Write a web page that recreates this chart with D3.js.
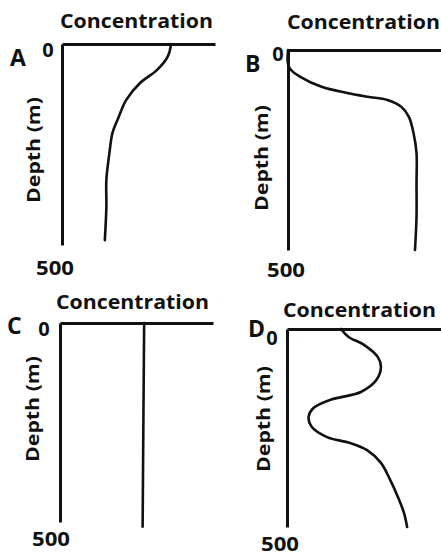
<!DOCTYPE html>
<html>
<head>
<meta charset="utf-8">
<script src="https://cdn.jsdelivr.net/npm/d3@7"></script>
<style>
  html, body { margin: 0; padding: 0; background: #fff; }
  svg { display: block; }
  text { font-family: "Open Sans", "DejaVu Sans", sans-serif; font-weight: 700; fill: #111; }
</style>
</head>
<body>
<svg id="chart" width="441" height="556"></svg>
<script>
// Depth profiles (depth in m, concentration on a relative 0-100 scale)
const panelNames = ["A", "B", "C", "D"];
const depthTicks = [0, 500];
const titleText = "Concentration";
const depthLabel = "Depth (m)";

const depthA = [0, 7, 32, 65, 97, 139, 182, 221, 271, 338, 405, 488];
const concA  = [71, 71, 69, 62, 51, 42, 37, 33, 31, 29, 29, 28];

const depthB = [0, 35, 50, 67, 92, 107, 117, 125, 142, 167, 207, 257, 332, 417, 500];
const concB  = [0, 0, 2, 8, 22, 38, 52, 65, 74, 79, 82, 84, 84, 84, 83];

const depthC = [0, 250, 512];
const concC  = [55, 54.5, 54];

const depthD = [0, 20, 40, 71, 96, 129, 159, 179, 200, 222, 247, 273, 288, 306, 338, 381, 424, 465, 500];
const concD  = [35, 40, 50, 59, 61, 58, 48, 28, 17, 14, 16, 26, 41, 52, 61, 67, 72, 76, 78];

const profiles = [
  { depth: depthA, conc: concA },
  { depth: depthB, conc: concB },
  { depth: depthC, conc: concC },
  { depth: depthD, conc: concD }
];

// Frame of each panel and offsets of its labels
const layout = [
  { x0: 62,  x1: 215, y0: 44,  y1: 245, letter: [-52, 22], zero: [-14, 5],  five: [-7, 22],  title: [60, 28],   yl: [33, 150] },
  { x0: 288, x1: 441, y0: 50,  y1: 250, letter: [-43, 22], zero: [-10, 3],  five: [-2, 19],  title: [287, 29],  yl: [261, 158] },
  { x0: 60,  x1: 213, y0: 323, y1: 522, letter: [-53, 11], zero: [-16, 5],  five: [-9, 16],  title: [56, 309],  yl: [32, 409] },
  { x0: 287, x1: 441, y0: 329, y1: 527, letter: [-39, 8],  zero: [-15, 8],  five: [-7, 16],  title: [283, 317], yl: [263, 419] }
];

const svg = d3.select("#chart");

panelNames.forEach((name, i) => {
  const L = layout[i];
  const P = profiles[i];
  const x = d3.scaleLinear().domain([0, 100]).range([L.x0, L.x1]);
  const y = d3.scaleLinear().domain([0, 500]).range([L.y0, L.y1]);
  const g = svg.append("g");

  // Top (concentration) axis: just the line
  const top = g.append("g").attr("transform", `translate(0,${y(0)})`)
    .call(d3.axisTop(x).ticks(0).tickSizeOuter(0));
  top.select(".domain").attr("stroke", "#111").attr("stroke-width", 3);

  // Left (depth) axis with the 0 label
  const left = g.append("g").attr("transform", `translate(${x(0)},0)`)
    .call(d3.axisLeft(y).tickValues([depthTicks[0]]).tickSize(0).tickSizeOuter(0).tickFormat(d3.format("d")));
  left.select(".domain").attr("stroke", "#111").attr("stroke-width", 3);
  left.selectAll(".tick text")
    .attr("x", L.zero[0]).attr("dx", 0).attr("dy", 0)
    .attr("text-anchor", "middle")
    .attr("dominant-baseline", "central")
    .attr("transform", `translate(0,${L.zero[1]})`)
    .style("font-family", "'Open Sans', 'DejaVu Sans', sans-serif")
    .style("font-weight", 700)
    .style("font-size", "20px")
    .attr("fill", "#111");

  // 500 label below the depth axis
  g.append("text")
    .attr("x", x(0) + L.five[0])
    .attr("y", y(depthTicks[1]) + L.five[1])
    .attr("text-anchor", "middle")
    .attr("dominant-baseline", "central")
    .style("font-size", "20px")
    .attr("textLength", 38)
    .attr("lengthAdjust", "spacingAndGlyphs")
    .text(depthTicks[1]);

  // Panel letter
  g.append("text")
    .attr("x", x(0) + L.letter[0])
    .attr("y", y(0) + L.letter[1])
    .style("font-size", "23px")
    .text(name);

  // Title
  g.append("text")
    .attr("x", L.title[0])
    .attr("y", L.title[1])
    .style("font-size", "19px")
    .attr("textLength", 153)
    .attr("lengthAdjust", "spacingAndGlyphs")
    .text(titleText);

  // Depth axis label
  g.append("text")
    .attr("transform", `translate(${L.yl[0]},${L.yl[1]}) rotate(-90)`)
    .attr("text-anchor", "middle")
    .attr("dominant-baseline", "central")
    .style("font-size", "17px")
    .attr("textLength", 106)
    .attr("lengthAdjust", "spacingAndGlyphs")
    .text(depthLabel);

  // Profile curve
  const pts = P.depth.map((d, k) => [P.conc[k], d]);
  const line = d3.line()
    .x(p => x(p[0]))
    .y(p => y(p[1]))
    .curve(d3.curveCatmullRom.alpha(0.5));
  g.append("path")
    .datum(pts)
    .attr("d", line)
    .attr("fill", "none")
    .attr("stroke", "#111")
    .attr("stroke-width", 2.6)
    .attr("stroke-linecap", "round");
});
</script>
</body>
</html>
